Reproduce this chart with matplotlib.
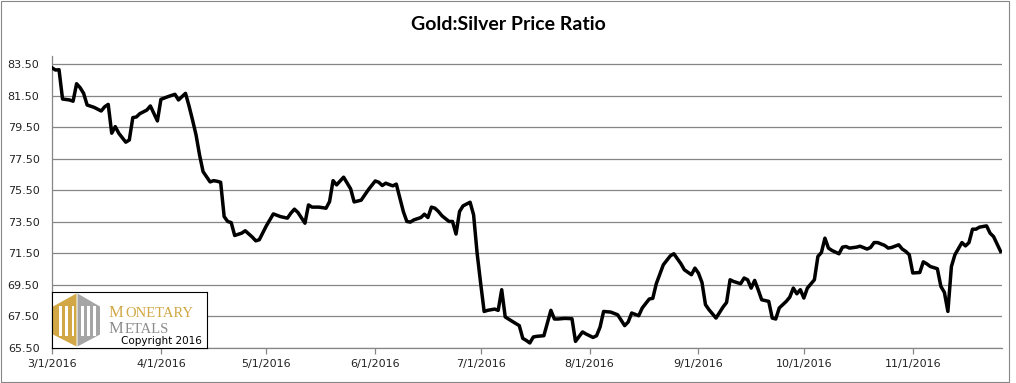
import matplotlib
matplotlib.use('Agg')
import matplotlib.pyplot as plt
from matplotlib.patches import Polygon, Rectangle
import pandas as pd

plt.rcParams['font.family'] = 'DejaVu Sans'

# days since 3/1/2016 and the gold:silver ratio
start = pd.Timestamp('2016-03-01')
days = [0, 1, 2, 3, 5, 6, 7, 8, 9, 10, 12, 14, 15, 16, 17, 18, 19, 21, 22, 23,
        24, 25, 27, 28, 29, 30, 31, 33, 35, 36, 38, 39, 40, 41, 42, 43, 45, 46, 47, 48,
        49, 50, 51, 52, 54, 55, 57, 58, 59, 61, 63, 65, 67, 68, 69, 70, 72, 73, 74, 76,
        78, 79, 80, 81, 82, 83, 85, 86, 88, 90, 92, 93, 94, 95, 96, 97, 98, 100, 101, 102,
        103, 105, 106, 107, 108, 109, 110, 111, 113, 114, 115, 116, 117, 119, 120, 121, 122, 123, 124, 126,
        127, 128, 129, 131, 133, 134, 135, 136, 137, 138, 140, 142, 143, 144, 146, 148, 149, 151, 152, 154,
        155, 156, 157, 159, 161, 163, 164, 165, 167, 168, 170, 171, 172, 174, 176, 177, 179, 180, 182, 183,
        184, 185, 186, 187, 189, 191, 192, 193, 194, 196, 197, 198, 199, 200, 201, 202, 204, 205, 206, 207,
        209, 210, 211, 212, 213, 214, 215, 217, 218, 219, 220, 221, 222, 224, 225, 226, 227, 229, 230, 232,
        233, 234, 235, 237, 238, 239, 241, 242, 243, 244, 245, 247, 248, 249, 250, 252, 253, 254, 255, 256,
        257, 259, 260, 261, 262, 263, 264, 266, 267, 268, 270]
ratio = [83.28, 83.14, 83.16, 81.30, 81.24, 81.16, 82.27, 82.02, 81.66, 80.92, 80.77, 80.54, 80.81, 80.96, 79.13, 79.55, 79.13, 78.56, 78.70, 80.12,
         80.16, 80.37, 80.60, 80.86, 80.39, 79.91, 81.28, 81.45, 81.60, 81.24, 81.66, 80.86, 79.97, 79.02, 77.75, 76.69, 76.04, 76.12, 76.08, 76.02,
         73.84, 73.53, 73.46, 72.64, 72.79, 72.94, 72.54, 72.30, 72.37, 73.25, 74.01, 73.84, 73.74, 74.06, 74.31, 74.10, 73.42, 74.58, 74.44, 74.44,
         74.37, 74.79, 76.12, 75.85, 76.10, 76.34, 75.60, 74.77, 74.88, 75.53, 76.10, 76.02, 75.81, 75.96, 75.87, 75.79, 75.90, 74.16, 73.53, 73.49,
         73.63, 73.78, 73.99, 73.78, 74.44, 74.37, 74.16, 73.89, 73.53, 73.53, 72.73, 74.16, 74.52, 74.75, 73.95, 71.52, 69.62, 67.82, 67.89, 67.97,
         67.89, 69.20, 67.47, 67.19, 66.92, 66.11, 65.98, 65.82, 66.20, 66.24, 66.28, 67.89, 67.34, 67.34, 67.38, 67.36, 65.92, 66.52, 66.39, 66.17,
         66.28, 66.83, 67.82, 67.78, 67.61, 66.92, 67.15, 67.72, 67.55, 68.04, 68.61, 68.65, 69.58, 70.78, 71.35, 71.48, 70.85, 70.46, 70.15, 70.57,
         70.25, 69.66, 68.25, 67.93, 67.40, 68.10, 68.39, 69.83, 69.72, 69.58, 69.94, 69.83, 69.30, 69.79, 69.20, 68.56, 68.46, 67.40, 67.34, 68.04,
         68.46, 68.73, 69.30, 68.94, 69.20, 68.67, 69.30, 69.83, 71.31, 71.56, 72.47, 71.84, 71.69, 71.48, 71.90, 71.94, 71.84, 71.90, 71.96, 71.78,
         71.88, 72.19, 72.19, 72.01, 71.84, 71.88, 72.05, 71.78, 71.63, 71.42, 70.26, 70.29, 70.97, 70.84, 70.67, 70.53, 69.41, 69.03, 67.82, 70.67,
         71.42, 72.19, 71.98, 72.19, 73.04, 73.04, 73.17, 73.25, 72.79, 72.57, 71.63]

month_starts = ['2016-03-01', '2016-04-01', '2016-05-01', '2016-06-01', '2016-07-01',
                '2016-08-01', '2016-09-01', '2016-10-01', '2016-11-01']
y_ticks = [65.5, 67.5, 69.5, 71.5, 73.5, 75.5, 77.5, 79.5, 81.5, 83.5]

dates = start + pd.to_timedelta(days, unit='D')
grid_col = '#868686'

fig = plt.figure(figsize=(10.16, 3.83), dpi=100)
ax = fig.add_axes([52 / 1016, 35 / 383, 950 / 1016, 292 / 383])

ax.plot(dates, ratio, color='black', lw=2.5, zorder=3)

ax.set_ylim(65.5, 84.03)
ax.set_yticks(y_ticks)
ax.set_yticklabels(['%.2f' % v for v in y_ticks])
ax.yaxis.grid(True, color=grid_col, lw=0.9)
ax.set_axisbelow(True)

ticks = pd.to_datetime(month_starts)
ax.set_xticks(ticks)
ax.set_xticklabels([f"{d.month}/{d.day}/{d.year}" for d in ticks])
ax.set_xlim(start, start + pd.Timedelta(days=270.4))

ax.tick_params(axis='y', length=0, pad=9, labelsize=8, labelcolor='#222222')
ax.tick_params(axis='x', length=4, width=0.9, color=grid_col, pad=4,
               labelsize=8, labelcolor='#222222')
for s in ['top', 'right']:
    ax.spines[s].set_visible(False)
for s in ['left', 'bottom']:
    ax.spines[s].set_color(grid_col)
    ax.spines[s].set_linewidth(0.9)

fig.text(0.5, 1 - 25 / 383, 'Gold:Silver Price Ratio', ha='center', va='center',
         fontsize=14, fontweight='bold', family='Lato')

# logo box in the lower left corner
lax = fig.add_axes([52 / 1016, 35 / 383, 155 / 1016, 56 / 383], zorder=5)
lax.set_xlim(0, 155)
lax.set_ylim(56, 0)
lax.set_xticks([])
lax.set_yticks([])
for s in lax.spines.values():
    s.set_color('black')
    s.set_linewidth(0.8)

gold = '#D1A845'
grey = '#A5A5A5'
lax.add_patch(Polygon([(1, 14.5), (24.5, 1.5), (24.5, 54.5), (1, 42.5)], closed=True, color=gold, lw=0))
lax.add_patch(Polygon([(25.5, 1.5), (48, 14.5), (48, 42.5), (25.5, 54.5)], closed=True, color=grey, lw=0))
for bx, bw in [(7, 3), (13, 2.5), (19.5, 2.5), (29, 2.5), (35, 2.5), (41, 3)]:
    lax.add_patch(Rectangle((bx, 14), bw, 30, color='white', lw=0))

lax.text(57, 21, 'M', color=gold, fontsize=12, family='Liberation Serif',
         ha='left', va='center')
lax.text(73, 21.5, 'ONETARY', color=gold, fontsize=10.5, family='Liberation Serif',
         ha='left', va='center')
lax.text(57, 37, 'M', color='#8C8C8C', fontsize=12, family='Liberation Serif',
         ha='left', va='center')
lax.text(73, 37.5, 'ETALS', color='#8C8C8C', fontsize=10.5, family='Liberation Serif',
         ha='left', va='center')
lax.text(150, 49.5, 'Copyright 2016', color='black', fontsize=7.5, ha='right', va='center')

# chart border
fig.patches.append(Rectangle((0.5 / 1016, 1 / 383), 1008.5 / 1016, 381 / 383,
                             transform=fig.transFigure, fill=False,
                             edgecolor=grid_col, lw=0.8))

fig.savefig('out.png', dpi=100)
